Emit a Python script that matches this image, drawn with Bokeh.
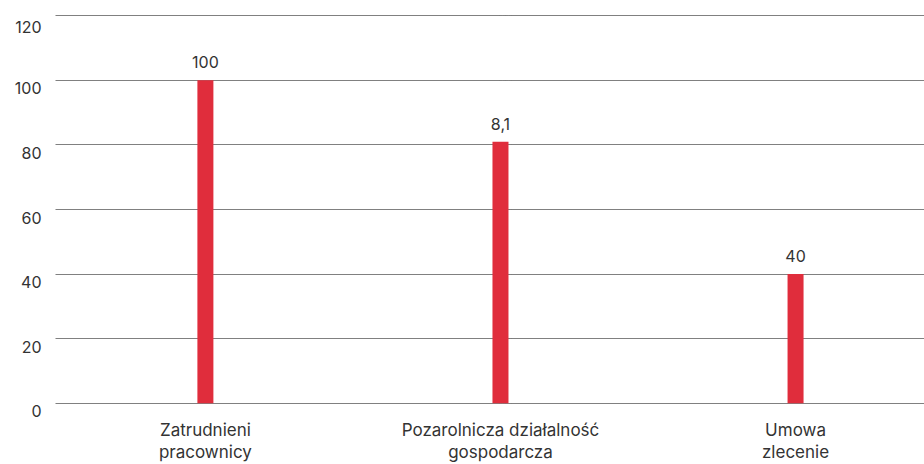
from bokeh.plotting import figure
from bokeh.models import Range1d, FixedTicker, ColumnDataSource
from bokeh.core.properties import value
from bokeh.embed import file_html
from bokeh.resources import INLINE

categories = ["Zatrudnieni\npracownicy", "Pozarolnicza działalność\ngospodarcza", "Umowa\nzlecenie"]
values = [100, 81, 40]
value_labels = ["100", "8,1", "40"]
y_ticks = [0, 20, 40, 60, 80, 100, 120]

FONT = "Inter"
TEXT_COLOR = "#333333"
BAR_COLOR = "#E02D3C"
X_START, X_END = -0.508, 2.437

xs = list(range(len(categories)))
src = ColumnDataSource(dict(x=xs, top=values, lab=value_labels))

p = figure(width=924, height=464, output_backend="svg", toolbar_location=None,
           x_range=Range1d(X_START, X_END), y_range=Range1d(-0.4, 120.4),
           min_border_left=55, min_border_right=0, min_border_top=14, min_border_bottom=59)
p.outline_line_color = None
p.background_fill_color = "white"

p.vbar(x="x", top="top", width=16 / 295, bottom=0, source=src, fill_color=BAR_COLOR, line_color=None)
p.text(x="x", y="top", text="lab", source=src, text_align="center", text_baseline="bottom",
       y_offset=-12, text_font=value(FONT), text_font_size="16px", text_color=TEXT_COLOR)

p.xgrid.grid_line_color = None
p.ygrid.ticker = FixedTicker(ticks=y_ticks)
p.ygrid.grid_line_color = "#000000"
p.ygrid.grid_line_dash = "1 1"
p.ygrid.grid_line_width = 1

# y tick labels sit slightly below their grid lines in the reference
p.yaxis.ticker = FixedTicker(ticks=y_ticks)
p.yaxis.major_label_overrides = {v: "\n" + str(v) for v in y_ticks}
p.yaxis.axis_line_color = None
p.yaxis.major_tick_line_color = None
p.yaxis.minor_tick_line_color = None
p.yaxis.major_tick_out = 0
p.yaxis.major_label_text_font = FONT
p.yaxis.major_label_text_font_size = "16px"
p.yaxis.major_label_text_color = TEXT_COLOR
p.yaxis.major_label_text_baseline = "top"
p.yaxis.major_label_text_line_height = 0.8
p.yaxis.major_label_standoff = 14

p.xaxis.ticker = FixedTicker(ticks=xs)
p.xaxis.major_label_overrides = {i: c for i, c in zip(xs, categories)}
p.xaxis.axis_line_color = None
p.xaxis.major_tick_line_color = None
p.xaxis.minor_tick_line_color = None
p.xaxis.major_tick_out = 0
p.xaxis.major_label_text_font = FONT
p.xaxis.major_label_text_font_size = "17px"
p.xaxis.major_label_text_color = TEXT_COLOR
p.xaxis.major_label_text_line_height = 1.1
p.xaxis.major_label_standoff = 15

open("out.html", "w").write(file_html(p, INLINE))
